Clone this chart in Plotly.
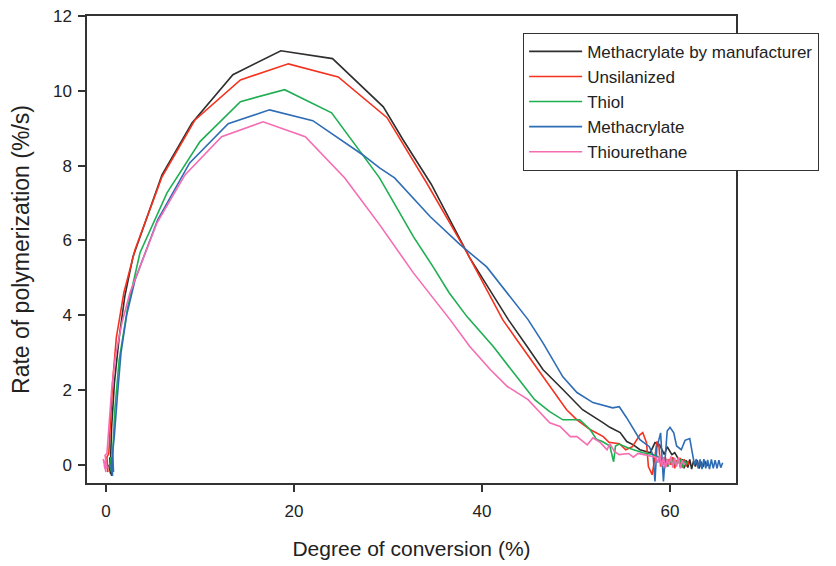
import plotly.graph_objects as go

# ---------------- data ----------------
names = ["Methacrylate by manufacturer", "Unsilanized", "Thiol", "Methacrylate", "Thiourethane"]

black_x = [0.3, 0.5, 0.4, 0.6, 0.5, 0.6, 0.9, 1.4, 2.0, 2.87, 5.96, 9.15, 13.5, 18.6, 24.1, 29.5,
           31.6, 34.6, 38.7, 42.8, 44.8, 46.5, 48.6, 50.7, 52.9, 53.6, 54.7, 55.4, 56.1, 56.8, 57.9,
           58.4, 58.9, 59.4, 59.7, 60.2, 60.5, 60.9,
           61.1, 61.3, 61.5, 61.7, 61.9, 62.1, 62.3, 62.5, 62.7, 62.9, 63.1, 63.3, 63.5, 63.7, 63.9, 64.0]
black_y = [0.0, -0.25, 0.2, -0.3, 0.25, 1.0, 2.2, 3.4, 4.5, 5.56, 7.75, 9.14, 10.43, 11.07, 10.86, 9.57,
           8.69, 7.5, 5.53, 3.88, 3.16, 2.54, 2.01, 1.47, 1.12, 1.0, 0.86, 0.62, 0.53, 0.40, 0.32,
           0.59, 0.53, 0.27, 0.48, 0.27, 0.32, 0.15,
           -0.05, 0.15, -0.1, 0.12, -0.08, 0.14, -0.12, 0.1, -0.05, 0.12, -0.1, 0.08, -0.06, 0.1, -0.04, 0.02]

red_x = [0.0, 0.2, 0.1, 0.3, 0.45, 0.7, 1.1, 1.9, 3.09, 5.96, 9.47, 14.3, 19.4, 24.7, 29.9,
         31.3, 34.1, 38.4, 42.2, 43.7, 45.4, 47.2, 49.0, 50.1, 51.5, 52.9, 53.5, 54.6, 55.3, 56.0,
         56.8, 57.1, 57.5, 57.7, 58.1, 58.4, 58.6, 58.8, 59.0, 59.3,
         59.5, 59.7, 59.9, 60.1, 60.3, 60.5, 60.7, 60.9, 61.1, 61.3, 61.5, 61.7, 61.9, 62.0]
red_y = [0.1, -0.2, 0.2, 0.3, 1.0, 2.2, 3.4, 4.6, 5.75, 7.70, 9.22, 10.29, 10.72, 10.37, 9.28,
         8.69, 7.54, 5.67, 3.88, 3.34, 2.73, 2.09, 1.47, 1.20, 0.94, 0.75, 0.6, 0.56, 0.40, 0.48,
         0.80, 0.86, 0.59, -0.05, -0.27, 0.21, 0.62, 0.55, -0.05, 0.1,
         0.2, -0.05, 0.15, 0.0, 0.2, -0.1, 0.12, 0.05, 0.18, -0.08, 0.15, -0.05, 0.1, 0.0]

green_x = [0.4, 0.6, 0.5, 0.7, 0.75, 0.95, 1.4, 2.3, 3.62, 6.49, 10.0, 14.3, 19.0, 24.0, 29.1,
           32.7, 34.8, 36.5, 38.4, 41.2, 43.7, 45.6, 47.2, 48.6, 50.4, 51.5, 52.2, 52.8, 53.6, 54.0,
           54.2, 54.6, 55.5, 56.1, 57.1, 58.2, 58.8,
           59.0, 59.2, 59.4, 59.6, 59.8, 60.0, 60.2, 60.4, 60.6, 60.8, 61.0, 61.2, 61.4, 61.6, 61.8]
green_y = [0.0, -0.2, 0.2, -0.1, 0.5, 1.5, 2.8, 4.2, 5.67, 7.27, 8.64, 9.71, 10.03, 9.41, 7.67,
           6.10, 5.29, 4.6, 3.96, 3.16, 2.35, 1.74, 1.42, 1.20, 1.20, 0.94, 0.67, 0.62, 0.5, 0.08,
           0.5, 0.55, 0.45, 0.40, 0.32, 0.27, 0.2,
           0.05, 0.2, 0.0, 0.15, -0.05, 0.12, 0.02, 0.18, -0.02, 0.1, 0.05, 0.15, -0.08, 0.1, 0.0]

blue_x = [0.5, 0.7, 0.6, 0.8, 0.7, 0.9, 1.2, 1.6, 2.2, 3.1, 5.5, 8.9, 13.0, 17.4, 22.0, 27.3,
          29.1, 30.7, 34.5, 37.7, 40.5, 43.3, 44.9, 46.5, 48.6, 50.1, 51.8, 53.9, 54.6, 55.4, 56.1,
          56.8, 57.8, 58.2, 58.4, 58.6, 59.0, 59.3, 59.7, 60.0, 60.4, 60.7, 61.2, 61.6, 62.1, 62.4, 62.6,
          62.8, 63.0, 63.2, 63.4, 63.6, 63.8, 64.0, 64.2, 64.4, 64.6, 64.8, 65.0, 65.2, 65.4, 65.6]
blue_y = [0.0, -0.3, 0.2, -0.2, 0.3, 0.8, 1.8, 3.0, 4.0, 4.95, 6.55, 8.07, 9.12, 9.49, 9.20, 8.29,
          7.94, 7.67, 6.63, 5.88, 5.29, 4.41, 3.88, 3.25, 2.35, 1.93, 1.66, 1.52, 1.55, 1.25, 0.94,
          0.67, 0.48, 0.25, -0.45, 0.45, 0.85, -0.45, 0.9, 1.0, 0.85, 0.5, 0.4, 0.65, 0.7, 0.3, 0.0,
          0.15, -0.1, 0.14, -0.12, 0.15, -0.1, 0.13, -0.12, 0.14, -0.1, 0.12, -0.1, 0.12, -0.08, 0.05]

pink_x = [-0.2, 0.0, -0.3, 0.1, -0.1, 0.1, 0.3, 0.6, 1.0, 1.7, 2.55, 5.43, 8.4, 12.3, 16.7, 21.2, 25.4,
          29.1, 32.7, 36.6, 38.7, 40.9, 42.7, 44.9, 45.9, 47.2, 48.3, 49.4, 50.1, 51.2, 51.8,
          52.6, 53.3, 53.6, 54.1, 54.6, 55.6, 56.1, 56.6, 57.5, 58.5,
          58.7, 58.9, 59.1, 59.3, 59.5, 59.7, 59.9, 60.1, 60.3, 60.5, 60.7, 60.9, 61.1, 61.3, 61.5, 61.6]
pink_y = [0.0, -0.2, 0.15, -0.1, 0.25, 0.3, 1.0, 2.0, 2.9, 3.8, 4.6, 6.47, 7.75, 8.77, 9.17, 8.77, 7.67,
          6.42, 5.13, 3.88, 3.16, 2.54, 2.09, 1.74, 1.47, 1.12, 1.02, 0.75, 0.75, 0.53, 0.72,
          0.59, 0.4, 0.56, 0.35, 0.27, 0.3, 0.2, 0.3, 0.25, 0.2,
          0.05, 0.25, -0.05, 0.2, -0.1, 0.15, 0.0, 0.22, -0.08, 0.18, -0.05, 0.2, -0.1, 0.12, 0.0, 0.05]

x_ticks = [0, 20, 40, 60]
y_ticks = [0, 2, 4, 6, 8, 10, 12]

colors = ["#2e2e2e", "#f4321e", "#1fae52", "#2e6db6", "#f56cb2"]
series = [(black_x, black_y), (red_x, red_y), (green_x, green_y), (blue_x, blue_y), (pink_x, pink_y)]

FONT = "Arial, Liberation Sans, sans-serif"

fig = go.Figure()
for name, (xs, ys), c in zip(names, series, colors):
    fig.add_trace(go.Scatter(x=xs, y=ys, mode="lines", name=name,
                             line=dict(color=c, width=1.6)))

fig.update_layout(
    width=836, height=566,
    margin=dict(l=79, r=108, t=8, b=91, autoexpand=False),
    paper_bgcolor="white", plot_bgcolor="white",
    font=dict(family=FONT, color="#222222"),
    showlegend=True,
    legend=dict(x=0.672, y=0.964, xanchor="left", yanchor="top",
                bordercolor="#333333", borderwidth=1, bgcolor="white",
                font=dict(size=17, family=FONT, color="#222222"),
                itemwidth=53, tracegroupgap=0),
    xaxis=dict(range=[-2.02, 67.02], tickvals=x_ticks, ticks="outside", ticklen=7,
               tickwidth=1.5, tickcolor="#333333", showline=True, linewidth=1.5,
               linecolor="#333333", mirror=True, showgrid=False, zeroline=False,
               tickfont=dict(size=17), ticklabelstandoff=5, automargin=False,
               ticklabeloverflow="allow",
               title=dict(text="Degree of conversion (%)", font=dict(size=21), standoff=21)),
    yaxis=dict(range=[-0.49, 12], tickvals=y_ticks, ticks="outside", ticklen=7,
               tickwidth=1.5, tickcolor="#333333", showline=True, linewidth=1.5,
               linecolor="#333333", mirror=True, showgrid=False, zeroline=False,
               tickfont=dict(size=17), ticklabelstandoff=3, automargin=False,
               ticklabeloverflow="allow",
               title=dict(text="Rate of polymerization (%/s)", font=dict(size=23), standoff=18)),
)

fig.write_html("out.html")
